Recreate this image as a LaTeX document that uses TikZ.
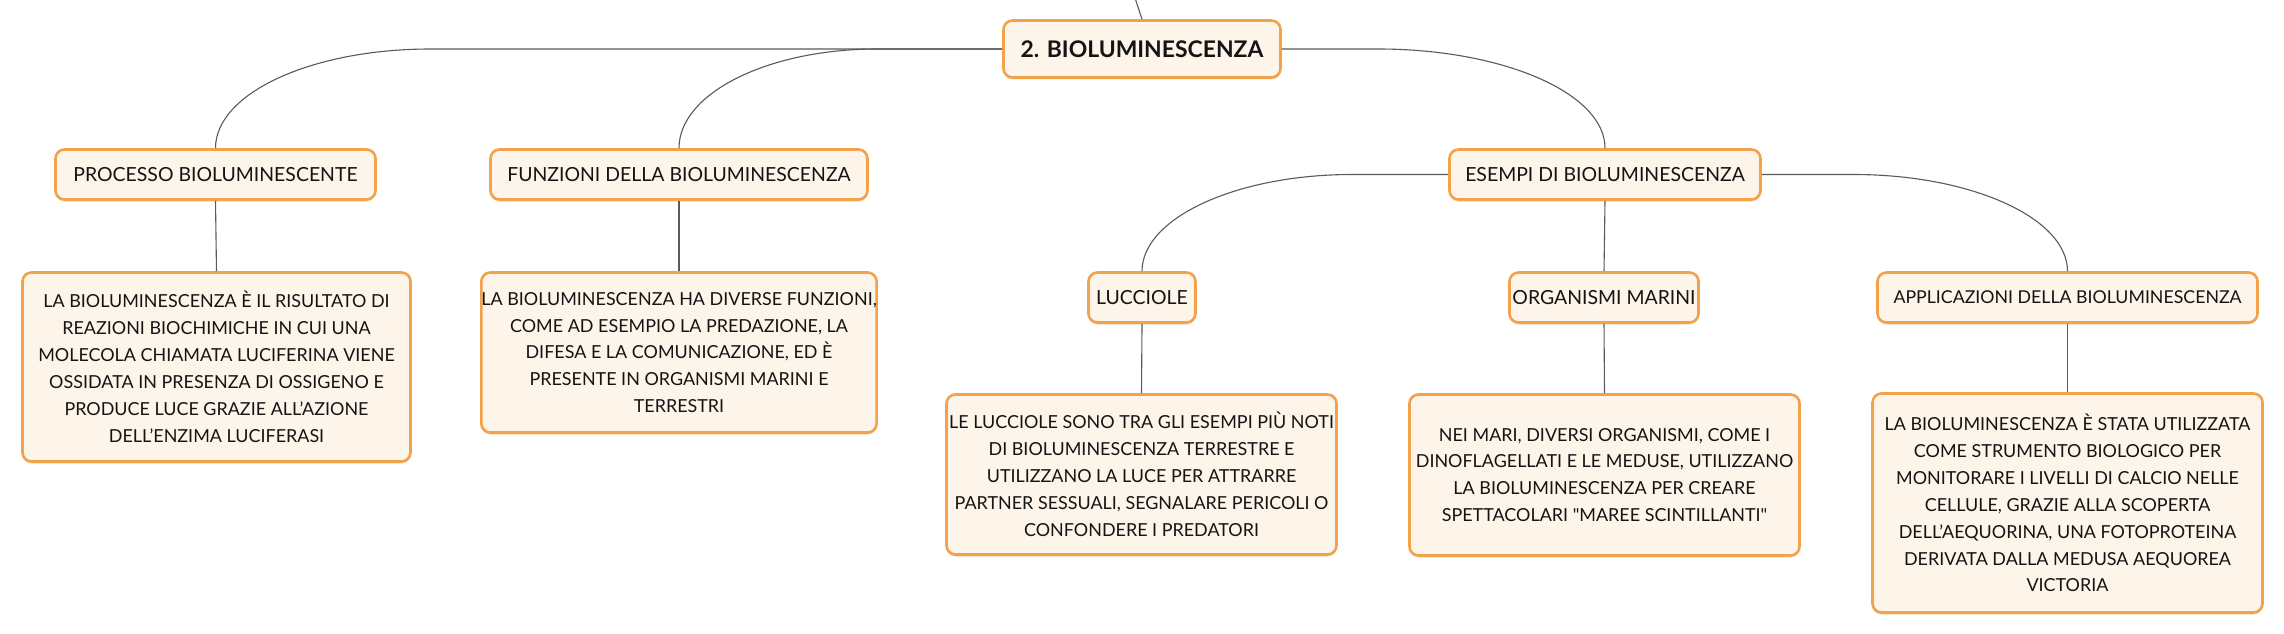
\documentclass[tikz,border=0pt]{standalone}
\usepackage{fontspec}
\newfontfamily\lato{Lato}
\usetikzlibrary{calc,shadows}
\definecolor{bord}{HTML}{F2A24A}
\definecolor{fillc}{HTML}{FDF4EA}
\definecolor{linec}{HTML}{5A5A5A}
\definecolor{shad}{HTML}{F0C48E}
\begin{document}
\begin{tikzpicture}[x=1bp,y=-1bp,
  box/.style={draw=bord, line width=2.6bp, fill=fillc, rounded corners=9bp,
    align=center, inner sep=0pt, text=black!92,
    font=\lato\fontsize{19.5}{27}\selectfont,
    drop shadow={shadow xshift=0bp, shadow yshift=-2bp, fill=shad, opacity=.6}},
  textbox/.style={box, font=\lato\fontsize{18}{27}\selectfont},
  rootbox/.style={box, font=\lato\fontsize{23}{27}\selectfont\bfseries},
  conn/.style={draw=linec, line width=1.1bp}]
\useasboundingbox[fill=white] (0,0) rectangle (2284,634);

% level 0
\node[rootbox, minimum width=277bp, minimum height=57bp] (root) at (1142,49) {2. BIOLUMINESCENZA};
\coordinate (top) at (1135,-2);

% level 1
\node[box, minimum width=320bp, minimum height=50bp] (proc) at (215.5,174.5) {PROCESSO BIOLUMINESCENTE};
\node[box, minimum width=377bp, minimum height=50bp] (funz) at (679,174.5) {FUNZIONI DELLA BIOLUMINESCENZA};
\node[box, minimum width=311bp, minimum height=50bp] (esem) at (1605,174.5) {ESEMPI DI BIOLUMINESCENZA};

% level 2
\node[box, minimum width=107bp, minimum height=50bp] (lucc) at (1142,297.5) {LUCCIOLE};
\node[box, minimum width=189bp, minimum height=50bp] (orga) at (1604,297.5) {ORGANISMI MARINI};
\node[box, font=\lato\fontsize{17.8}{27}\selectfont, minimum width=380bp, minimum height=50bp] (appl) at (2067.5,297.5) {APPLICAZIONI DELLA BIOLUMINESCENZA};

% texts
\node[textbox, minimum width=388bp, minimum height=189bp] (proct) at (216.5,367) {LA BIOLUMINESCENZA È IL RISULTATO DI\\REAZIONI BIOCHIMICHE IN CUI UNA\\MOLECOLA CHIAMATA LUCIFERINA VIENE\\OSSIDATA IN PRESENZA DI OSSIGENO E\\PRODUCE LUCE GRAZIE ALL’AZIONE\\DELL’ENZIMA LUCIFERASI};
\node[textbox, minimum width=389bp, minimum height=160bp] (funzt) at (679,352.5) {LA BIOLUMINESCENZA HA DIVERSE FUNZIONI,\\COME AD ESEMPIO LA PREDAZIONE, LA\\DIFESA E LA COMUNICAZIONE, ED È\\PRESENTE IN ORGANISMI MARINI E\\TERRESTRI};
\node[textbox, minimum width=390bp, minimum height=160bp] (luct) at (1141.5,474.5) {LE LUCCIOLE SONO TRA GLI ESEMPI PIÙ NOTI\\DI BIOLUMINESCENZA TERRESTRE E\\UTILIZZANO LA LUCE PER ATTRARRE\\PARTNER SESSUALI, SEGNALARE PERICOLI O\\CONFONDERE I PREDATORI};
\node[textbox, minimum width=390bp, minimum height=161bp] (orgat) at (1604.5,475) {NEI MARI, DIVERSI ORGANISMI, COME I\\DINOFLAGELLATI E LE MEDUSE, UTILIZZANO\\LA BIOLUMINESCENZA PER CREARE\\SPETTACOLARI "MAREE SCINTILLANTI"};
\node[textbox, minimum width=390bp, minimum height=219bp] (applt) at (2067.5,503) {LA BIOLUMINESCENZA È STATA UTILIZZATA\\COME STRUMENTO BIOLOGICO PER\\MONITORARE I LIVELLI DI CALCIO NELLE\\CELLULE, GRAZIE ALLA SCOPERTA\\DELL’AEQUORINA, UNA FOTOPROTEINA\\DERIVATA DALLA MEDUSA AEQUOREA\\VICTORIA};

% connectors
\draw[conn] (top) -- (root.north);
\draw[conn] (root.west) -- ($(proc.north|-root.west)+(215,0)$) .. controls +(-119,0) and +(0,-55) .. (proc.north);
\draw[conn] (root.west) -- ($(funz.north|-root.west)+(198,0)$) .. controls +(-109,0) and +(0,-55) .. (funz.north);
\draw[conn] (root.east) -- ($(esem.north|-root.east)+(-227,0)$) .. controls +(125,0) and +(0,-55) .. (esem.north);
\draw[conn] (esem.west) -- ($(lucc.north|-esem.west)+(210,0)$) .. controls +(-116,0) and +(0,-53) .. (lucc.north);
\draw[conn] (esem.east) -- ($(appl.north|-esem.east)+(-214,0)$) .. controls +(118,0) and +(0,-53) .. (appl.north);
\draw[conn] (esem.south) -- (orga.north);
\draw[conn] (proc.south) -- (proct.north);
\draw[conn] (funz.south) -- (funzt.north);
\draw[conn] (lucc.south) -- (luct.north);
\draw[conn] (orga.south) -- (orgat.north);
\draw[conn] (appl.south) -- (applt.north);
\end{tikzpicture}
\end{document}
